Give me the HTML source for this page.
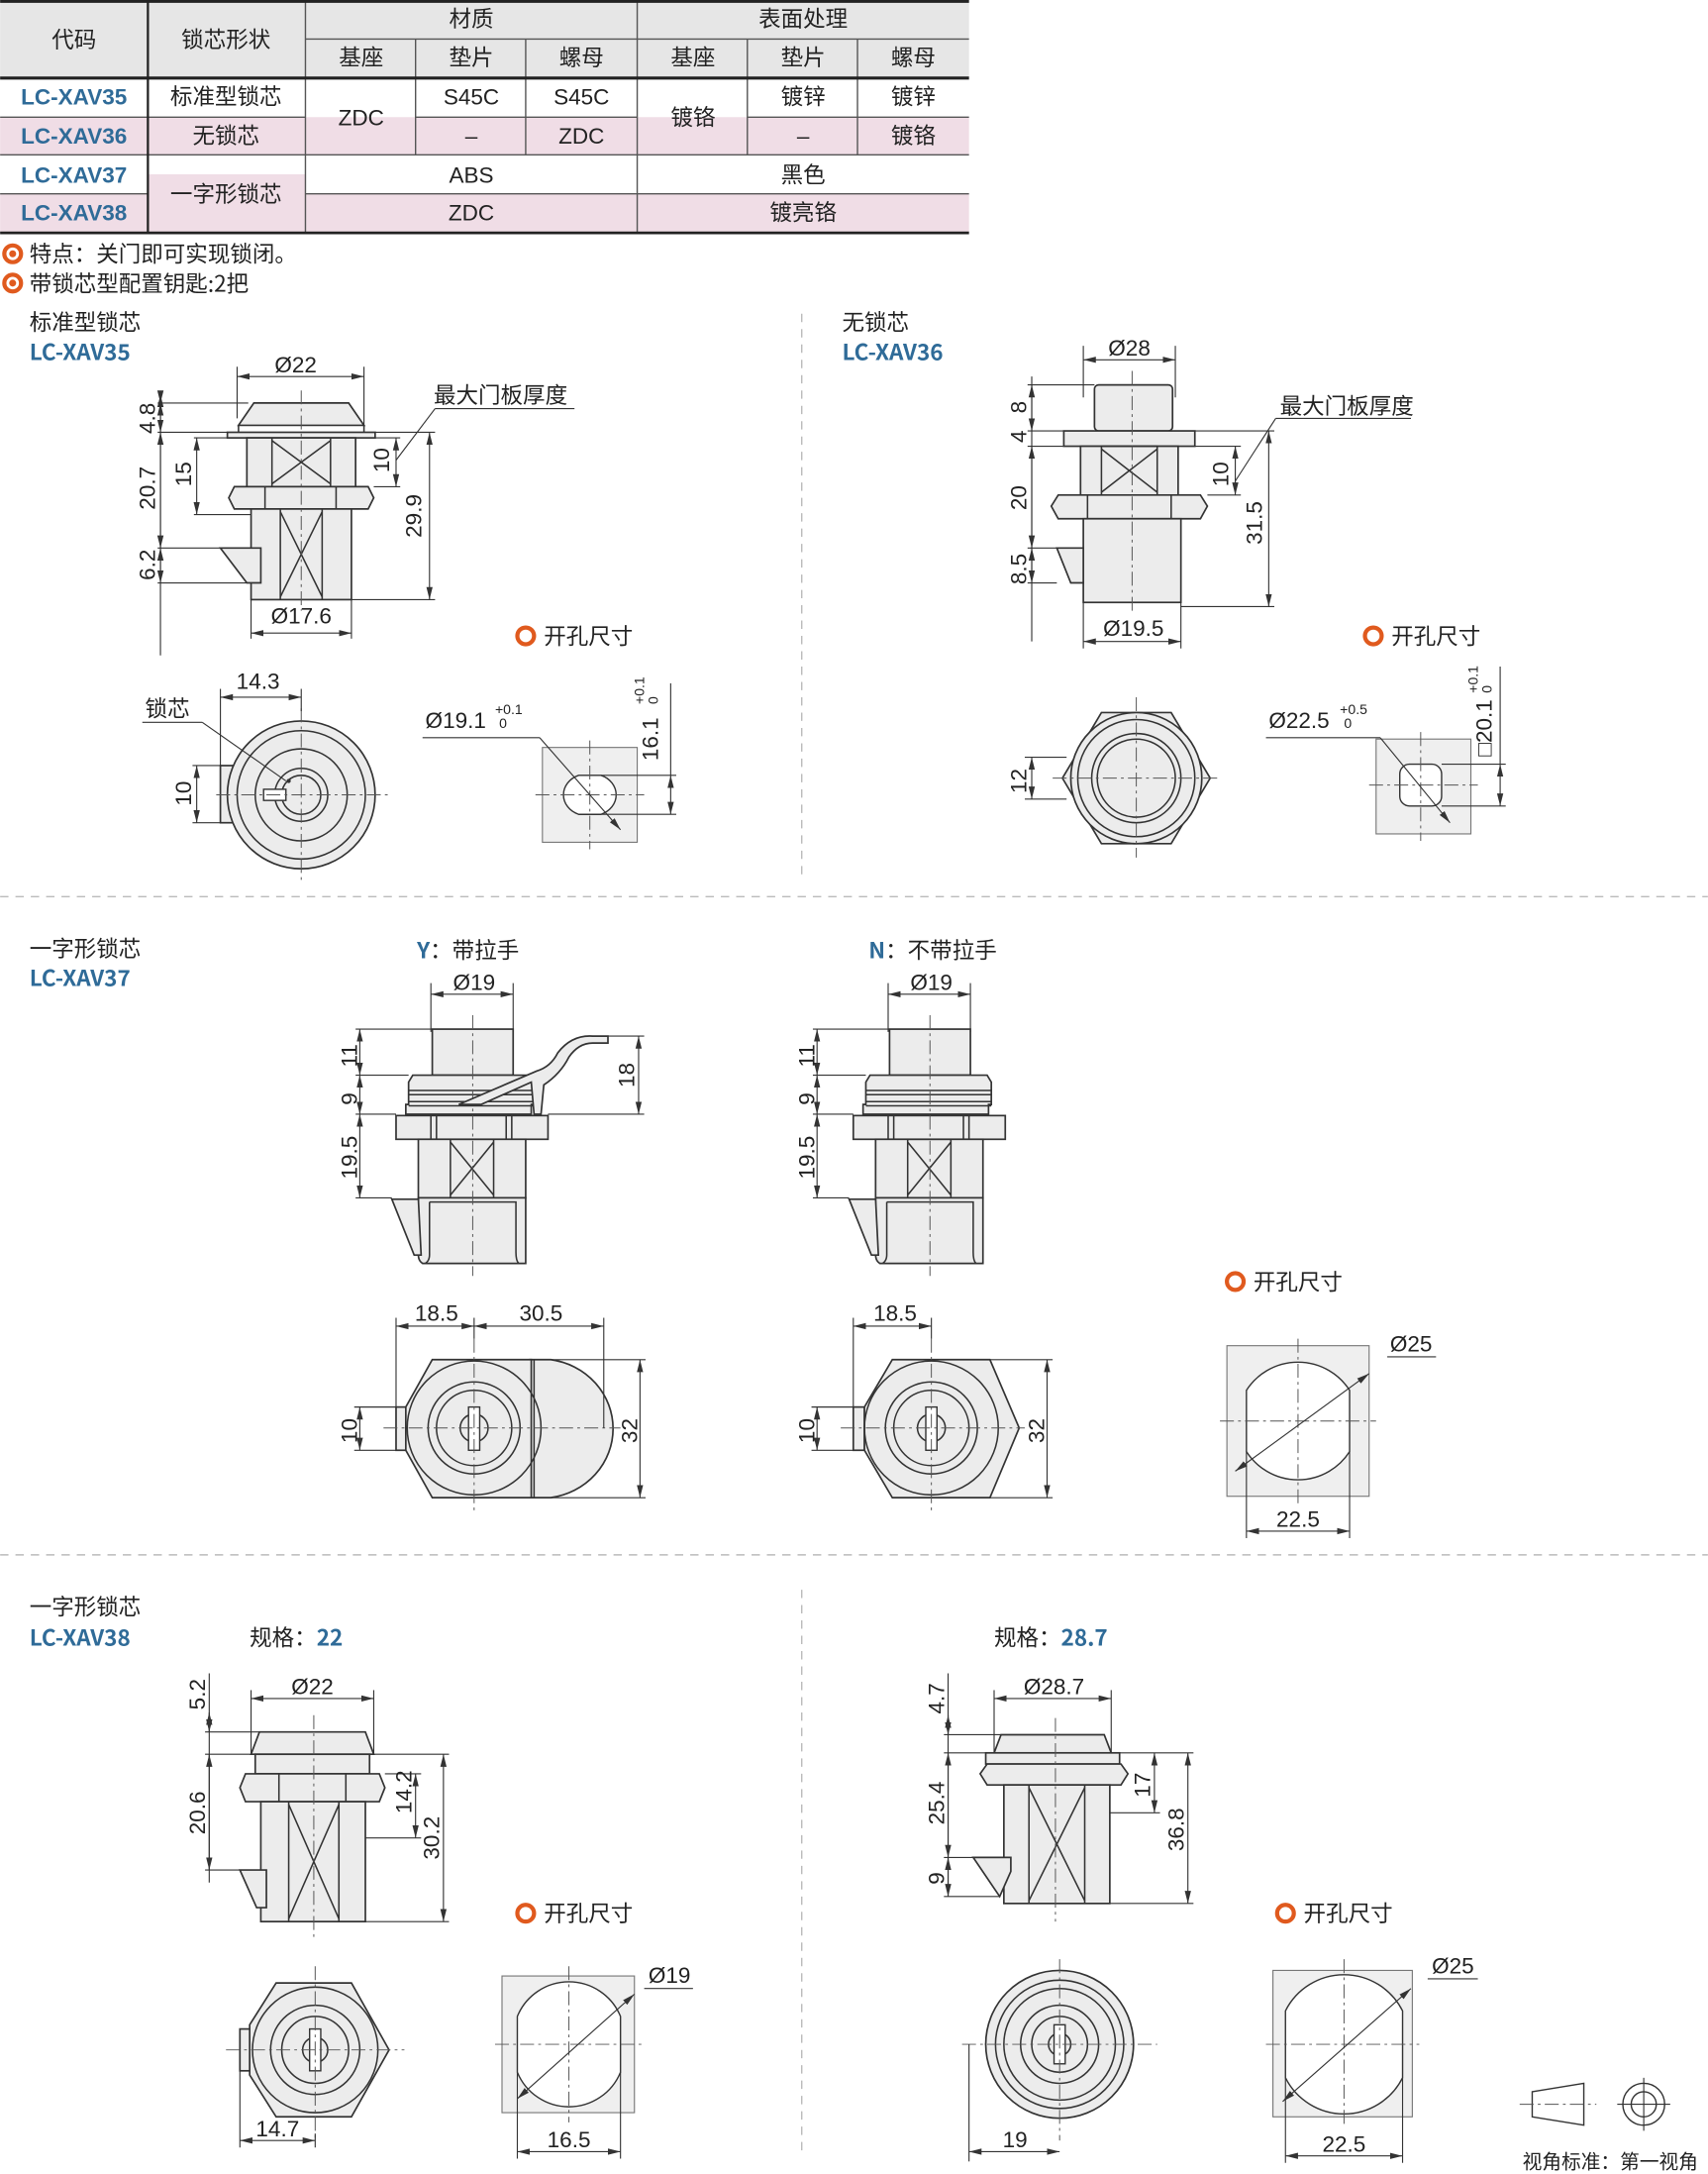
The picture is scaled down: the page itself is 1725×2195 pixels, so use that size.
<!DOCTYPE html>
<html><head><meta charset="utf-8">
<style>
html,body{margin:0;padding:0;background:#fff;}
svg{display:block;}
text{font-family:"Liberation Sans","Noto Sans CJK SC",sans-serif;fill:#222;}
.cn{font-family:"Noto Sans CJK SC","Liberation Sans",sans-serif;}
.p{fill:#ececec;stroke:#333;stroke-width:1.2;}
.l{fill:none;stroke:#333;stroke-width:1.1;}
.d{fill:none;stroke:#333;stroke-width:0.8;}
.dm{fill:none;stroke:#333;stroke-width:0.8;marker-start:url(#a);marker-end:url(#a);}
.c{fill:none;stroke:#555;stroke-width:0.7;stroke-dasharray:10 3 2 3;}
.sep{stroke:#bbb;stroke-width:1;stroke-dasharray:6 5;}
.n{font-size:16px;}
.blue{fill:#2f6b98;font-weight:bold;}
</style></head>
<body>
<svg width="1725" height="2195" viewBox="0 0 1225 1559" xmlns="http://www.w3.org/2000/svg">
<defs>
<marker id="a" viewBox="0 0 10 10" refX="10" refY="5" markerWidth="9" markerHeight="9" orient="auto-start-reverse" markerUnits="userSpaceOnUse"><path d="M0,2.5 L10,5 L0,7.5 z" fill="#333"/></marker>
</defs>

<!-- TABLE -->
<rect x="0" y="0" width="695" height="56" fill="#e6e6e6"/>
<rect x="0" y="84" width="219" height="27" fill="#f0dde6"/>
<rect x="298" y="84" width="159" height="27" fill="#f0dde6"/>
<rect x="536" y="84" width="159" height="27" fill="#f0dde6"/>
<rect x="219" y="84" width="79" height="27" fill="#f0dde6"/>
<rect x="457" y="84" width="79" height="27" fill="#f0dde6"/>
<rect x="0" y="139" width="106" height="28" fill="#f0dde6"/>
<rect x="106" y="125" width="113" height="42" fill="#f0dde6"/>
<rect x="219" y="139" width="476" height="28" fill="#f0dde6"/>
<g stroke="#555" stroke-width="1">
<line x1="219" y1="28" x2="695" y2="28"/>
<line x1="0" y1="84" x2="219" y2="84"/><line x1="298" y1="84" x2="457" y2="84"/><line x1="536" y1="84" x2="695" y2="84"/>
<line x1="0" y1="111" x2="695" y2="111"/>
<line x1="0" y1="139" x2="106" y2="139"/><line x1="219" y1="139" x2="695" y2="139"/>
<line x1="219" y1="0" x2="219" y2="167"/><line x1="457" y1="0" x2="457" y2="167"/>
<line x1="298" y1="28" x2="298" y2="111"/><line x1="377" y1="28" x2="377" y2="111"/>
<line x1="536" y1="28" x2="536" y2="111"/><line x1="615" y1="28" x2="615" y2="111"/>
</g>
<line x1="106" y1="0" x2="106" y2="167" stroke="#222" stroke-width="1.6"/>
<line x1="0" y1="1" x2="695" y2="1" stroke="#222" stroke-width="2"/>
<line x1="0" y1="56" x2="695" y2="56" stroke="#222" stroke-width="2.2"/>
<line x1="0" y1="167" x2="695" y2="167" stroke="#222" stroke-width="2"/>
<g class="cn" font-size="16" text-anchor="middle">
<text x="53" y="34">代码</text><text x="162" y="34">锁芯形状</text>
<text x="338" y="19">材质</text><text x="576" y="19">表面处理</text>
<text x="259" y="47">基座</text><text x="338" y="47">垫片</text><text x="417" y="47">螺母</text>
<text x="497" y="47">基座</text><text x="576" y="47">垫片</text><text x="655" y="47">螺母</text>
<text x="53" y="75" class="blue">LC-XAV35</text><text x="53" y="103" class="blue">LC-XAV36</text>
<text x="53" y="131" class="blue">LC-XAV37</text><text x="53" y="158" class="blue">LC-XAV38</text>
<text x="162" y="75">标准型锁芯</text><text x="162" y="103">无锁芯</text><text x="162" y="145">一字形锁芯</text>
<text x="259" y="90">ZDC</text><text x="338" y="75">S45C</text><text x="417" y="75">S45C</text>
<text x="338" y="103">–</text><text x="417" y="103">ZDC</text>
<text x="497" y="90">镀铬</text><text x="576" y="75">镀锌</text><text x="655" y="75">镀锌</text>
<text x="576" y="103">–</text><text x="655" y="103">镀铬</text>
<text x="338" y="131">ABS</text><text x="576" y="131">黑色</text>
<text x="338" y="158">ZDC</text><text x="576" y="158">镀亮铬</text>
</g>
<circle cx="9" cy="182" r="6" fill="none" stroke="#e05a1e" stroke-width="3"/>
<circle cx="9" cy="182" r="2.5" fill="#e05a1e"/>
<circle cx="9" cy="203" r="6" fill="none" stroke="#e05a1e" stroke-width="3"/>
<circle cx="9" cy="203" r="2.5" fill="#e05a1e"/>
<text class="cn" x="21" y="188" font-size="16">特点：关门即可实现锁闭。</text>
<text class="cn" x="21" y="209" font-size="16">带锁芯型配置钥匙:2把</text>

<!-- separators -->
<line class="sep" x1="575" y1="225" x2="575" y2="630"/>
<line class="sep" x1="0" y1="643" x2="1225" y2="643"/>
<line class="sep" x1="0" y1="1115" x2="1225" y2="1115"/>
<line class="sep" x1="575" y1="1140" x2="575" y2="1545"/>

<!-- ===== XAV35 ===== -->
<text class="cn" x="21" y="237" font-size="16">标准型锁芯</text>
<text class="cn blue" x="21" y="258" font-size="16">LC-XAV35</text>
<polygon class="p" points="182,289 250,289 261,305 171,305"/>
<rect class="p" x="163" y="310" width="106" height="4"/>
<line class="l" x1="171" y1="305" x2="171" y2="310"/><line class="l" x1="261" y1="305" x2="261" y2="310"/>
<rect class="p" x="177" y="314" width="78" height="35"/>
<line class="l" x1="195" y1="314" x2="195" y2="349"/><line class="l" x1="237" y1="314" x2="237" y2="349"/>
<path class="l" d="M195,316 L237,347 M237,316 L195,347" stroke-width="0.6"/>
<polygon class="p" points="168,349 264,349 268,357 264,365 168,365 164,357"/>
<line class="l" x1="190" y1="349" x2="190" y2="365"/><line class="l" x1="241" y1="349" x2="241" y2="365"/>
<rect class="p" x="180" y="365" width="72" height="65"/>
<line class="l" x1="201" y1="365" x2="201" y2="430"/><line class="l" x1="231" y1="365" x2="231" y2="430"/>
<path class="l" d="M201,367 L231,428 M231,367 L201,428" stroke-width="0.6"/>
<polygon class="p" points="158,393 187,393 187,418 177,418"/>
<line class="c" x1="216" y1="280" x2="216" y2="438"/>
<line class="d" x1="170" y1="263" x2="170" y2="300"/><line class="d" x1="261" y1="263" x2="261" y2="305"/>
<line class="dm" x1="170" y1="270" x2="261" y2="270"/><text class="n" x="212" y="267" text-anchor="middle">Ø22</text>
<line class="d" x1="115" y1="283" x2="115" y2="470"/>
<line class="dm" x1="115" y1="283" x2="115" y2="289"/>
<line class="d" x1="113" y1="289" x2="178" y2="289"/><line class="d" x1="113" y1="310" x2="163" y2="310"/>
<line class="d" x1="113" y1="393" x2="158" y2="393"/><line class="d" x1="113" y1="418" x2="177" y2="418"/>
<line class="dm" x1="115" y1="289" x2="115" y2="310"/><line class="dm" x1="115" y1="310" x2="115" y2="393"/><line class="dm" x1="115" y1="418" x2="115" y2="393"/>
<text class="n" transform="translate(111,300) rotate(-90)" text-anchor="middle">4.8</text>
<text class="n" transform="translate(111,350) rotate(-90)" text-anchor="middle">20.7</text>
<text class="n" transform="translate(111,405) rotate(-90)" text-anchor="middle">6.2</text>
<line class="d" x1="139" y1="314" x2="177" y2="314"/><line class="d" x1="139" y1="369" x2="180" y2="369"/>
<line class="dm" x1="141" y1="314" x2="141" y2="369"/>
<text class="n" transform="translate(137,340) rotate(-90)" text-anchor="middle">15</text>
<line class="d" x1="269" y1="314" x2="287" y2="314"/><line class="d" x1="268" y1="349" x2="287" y2="349"/>
<line class="dm" x1="284" y1="349" x2="284" y2="314"/>
<text class="n" transform="translate(279,330) rotate(-90)" text-anchor="middle">10</text>
<line class="d" x1="284" y1="330" x2="312" y2="293"/><line class="d" x1="312" y1="293" x2="412" y2="293"/>
<text class="cn" x="311" y="289" font-size="16">最大门板厚度</text>
<line class="d" x1="269" y1="310" x2="312" y2="310"/><line class="d" x1="252" y1="430" x2="312" y2="430"/>
<line class="dm" x1="308" y1="310" x2="308" y2="430"/>
<text class="n" transform="translate(302,370) rotate(-90)" text-anchor="middle">29.9</text>
<line class="d" x1="180" y1="430" x2="180" y2="458"/><line class="d" x1="252" y1="430" x2="252" y2="458"/>
<line class="dm" x1="180" y1="454" x2="252" y2="454"/><text class="n" x="216" y="447" text-anchor="middle">Ø17.6</text>
<circle cx="377" cy="456" r="6" fill="none" stroke="#e05a1e" stroke-width="3"/>
<text class="cn" x="390" y="462" font-size="16">开孔尺寸</text>
<!-- bottom view -->
<rect class="p" x="158" y="549" width="10" height="41"/>
<circle class="p" cx="216" cy="570" r="53"/>
<circle class="l" cx="216" cy="570" r="46"/>
<circle class="l" cx="216" cy="570" r="33"/>
<circle class="l" cx="216" cy="570" r="19"/>
<circle class="l" cx="216" cy="570" r="14"/>
<rect fill="#fff" stroke="#333" stroke-width="1" x="189" y="566" width="16" height="8"/>
<circle cx="207" cy="560" r="1.5" fill="#333"/>
<line class="c" x1="155" y1="570" x2="280" y2="570"/><line class="c" x1="216" y1="508" x2="216" y2="632"/>
<line class="d" x1="158" y1="494" x2="158" y2="549"/><line class="d" x1="216" y1="494" x2="216" y2="510"/>
<line class="dm" x1="158" y1="500" x2="216" y2="500"/><text class="n" x="185" y="494" text-anchor="middle">14.3</text>
<line class="d" x1="138" y1="549" x2="158" y2="549"/><line class="d" x1="138" y1="590" x2="158" y2="590"/>
<line class="dm" x1="141" y1="549" x2="141" y2="590"/>
<text class="n" transform="translate(137,569) rotate(-90)" text-anchor="middle">10</text>
<text class="cn" x="104" y="514" font-size="16">锁芯</text>
<line class="d" x1="102" y1="518" x2="145" y2="518"/><line class="d" x1="145" y1="518" x2="205" y2="560"/>
<rect x="389" y="536" width="68" height="68" fill="#efefef" stroke="#777" stroke-width="0.8"/>
<path d="M415,556 L431,556 A17 15 0 0 1 431,584 L415,584 A17 15 0 0 1 415,556 Z" fill="#fff" stroke="#333" stroke-width="1"/>
<line class="c" x1="384" y1="570" x2="462" y2="570"/><line class="c" x1="423" y1="531" x2="423" y2="609"/>
<text class="n" x="305" y="522">Ø19.1</text><text x="355" y="512" font-size="10">+0.1</text><text x="358" y="522" font-size="10">0</text>
<line class="d" x1="303" y1="529" x2="387" y2="529"/><line class="d" x1="387" y1="529" x2="445" y2="595" marker-end="url(#a)"/>
<line class="d" x1="431" y1="556" x2="485" y2="556"/><line class="d" x1="431" y1="584" x2="485" y2="584"/>
<line class="dm" x1="481" y1="556" x2="481" y2="584"/><line class="d" x1="481" y1="490" x2="481" y2="556"/>
<text class="n" transform="translate(472,530) rotate(-90)" text-anchor="middle">16.1</text>
<text font-size="10" transform="translate(462,505) rotate(-90)">+0.1</text><text font-size="10" transform="translate(472,505) rotate(-90)">0</text>

<!-- ===== XAV36 ===== -->
<text class="cn" x="604" y="237" font-size="16">无锁芯</text>
<text class="cn blue" x="604" y="258" font-size="16">LC-XAV36</text>
<rect class="p" x="785" y="276" width="56" height="33" rx="3"/>
<rect class="p" x="763" y="309" width="94" height="11"/>
<rect class="p" x="775" y="320" width="70" height="35"/>
<rect class="l" x="790" y="320" width="40" height="35"/>
<path class="l" d="M790,322 L830,353 M830,322 L790,353" stroke-width="0.6"/>
<polygon class="p" points="759,355 861,355 866,363 861,372 759,372 754,363"/>
<line class="l" x1="780" y1="355" x2="780" y2="372"/><line class="l" x1="840" y1="355" x2="840" y2="372"/>
<rect class="p" x="777" y="372" width="70" height="60"/>
<polygon class="p" points="758,393 777,393 777,418 768,418"/>
<line class="c" x1="812" y1="266" x2="812" y2="440"/>
<line class="d" x1="777" y1="248" x2="777" y2="285"/><line class="d" x1="843" y1="248" x2="843" y2="285"/>
<line class="dm" x1="777" y1="258" x2="843" y2="258"/><text class="n" x="810" y="255" text-anchor="middle">Ø28</text>
<line class="d" x1="740" y1="270" x2="740" y2="460"/>
<line class="d" x1="737" y1="276" x2="785" y2="276"/><line class="d" x1="737" y1="309" x2="763" y2="309"/><line class="d" x1="737" y1="320" x2="763" y2="320"/>
<line class="d" x1="737" y1="393" x2="758" y2="393"/><line class="d" x1="737" y1="418" x2="758" y2="418"/>
<line class="dm" x1="740" y1="276" x2="740" y2="309"/><line class="dm" x1="740" y1="320" x2="740" y2="393"/><line class="dm" x1="740" y1="393" x2="740" y2="418"/>
<text class="n" transform="translate(736,292) rotate(-90)" text-anchor="middle">8</text>
<text class="n" transform="translate(736,313) rotate(-90)" text-anchor="middle">4</text>
<text class="n" transform="translate(736,357) rotate(-90)" text-anchor="middle">20</text>
<text class="n" transform="translate(736,408) rotate(-90)" text-anchor="middle">8.5</text>
<line class="d" x1="857" y1="320" x2="890" y2="320"/><line class="d" x1="866" y1="355" x2="890" y2="355"/>
<line class="dm" x1="886" y1="355" x2="886" y2="320"/>
<text class="n" transform="translate(881,340) rotate(-90)" text-anchor="middle">10</text>
<line class="d" x1="886" y1="345" x2="915" y2="300"/><line class="d" x1="915" y1="300" x2="1012" y2="300"/>
<text class="cn" x="918" y="297" font-size="16">最大门板厚度</text>
<line class="d" x1="857" y1="309" x2="914" y2="309"/><line class="d" x1="847" y1="435" x2="914" y2="435"/>
<line class="dm" x1="910" y1="309" x2="910" y2="435"/>
<text class="n" transform="translate(905,375) rotate(-90)" text-anchor="middle">31.5</text>
<line class="d" x1="777" y1="432" x2="777" y2="465"/><line class="d" x1="847" y1="432" x2="847" y2="465"/>
<line class="dm" x1="777" y1="460" x2="847" y2="460"/><text class="n" x="813" y="456" text-anchor="middle">Ø19.5</text>
<circle cx="985" cy="456" r="6" fill="none" stroke="#e05a1e" stroke-width="3"/>
<text class="cn" x="998" y="462" font-size="16">开孔尺寸</text>
<polygon class="p" points="790,511 840,511 868,558 840,605 790,605 762,558"/>
<circle class="p" cx="815" cy="558" r="47"/>
<circle class="l" cx="815" cy="558" r="42"/>
<circle class="l" cx="815" cy="558" r="32"/>
<circle class="l" cx="815" cy="558" r="28"/>
<line class="c" x1="755" y1="558" x2="875" y2="558"/><line class="c" x1="815" y1="500" x2="815" y2="615"/>
<line class="d" x1="735" y1="543" x2="765" y2="543"/><line class="d" x1="735" y1="573" x2="765" y2="573"/>
<line class="dm" x1="740" y1="543" x2="740" y2="573"/>
<text class="n" transform="translate(736,560) rotate(-90)" text-anchor="middle">12</text>
<rect x="987" y="530" width="68" height="68" fill="#efefef" stroke="#777" stroke-width="0.8"/>
<rect x="1004" y="548" width="30" height="30" rx="7" fill="#fff" stroke="#333" stroke-width="1"/>
<line class="c" x1="982" y1="563" x2="1060" y2="563"/><line class="c" x1="1019" y1="525" x2="1019" y2="603"/>
<text class="n" x="910" y="522">Ø22.5</text><text x="961" y="512" font-size="10">+0.5</text><text x="964" y="522" font-size="10">0</text>
<line class="d" x1="908" y1="529" x2="990" y2="529"/><line class="d" x1="990" y1="529" x2="1040" y2="590" marker-end="url(#a)"/>
<line class="d" x1="1034" y1="548" x2="1080" y2="548"/><line class="d" x1="1034" y1="578" x2="1080" y2="578"/>
<line class="dm" x1="1076" y1="548" x2="1076" y2="578"/><line class="d" x1="1076" y1="478" x2="1076" y2="548"/>
<text class="n" transform="translate(1070,522) rotate(-90)" text-anchor="middle">□20.1</text>
<text font-size="10" transform="translate(1060,497) rotate(-90)">+0.1</text><text font-size="10" transform="translate(1070,497) rotate(-90)">0</text>

<!-- ===== XAV37 ===== -->
<text class="cn" x="21" y="686" font-size="16">一字形锁芯</text>
<text class="cn blue" x="21" y="707" font-size="16">LC-XAV37</text>
<text class="cn" x="299" y="687" font-size="16"><tspan class="blue">Y</tspan>：带拉手</text>
<text class="cn" x="623" y="687" font-size="16"><tspan class="blue">N</tspan>：不带拉手</text>

<g id="lk">
<rect class="p" x="310" y="738" width="58" height="33"/>
<polygon class="p" points="296,771 380,771 383,776 383,792 381,792 381,799 291,799 291,792 293,792 293,776"/>
<line class="l" x1="293" y1="782" x2="383" y2="782"/><line class="l" x1="293" y1="785" x2="383" y2="785"/>
<line class="l" x1="293" y1="790" x2="383" y2="790"/><line class="l" x1="293" y1="793" x2="383" y2="793"/>
<rect class="p" x="284" y="800" width="109" height="17"/>
<line class="l" x1="309" y1="800" x2="309" y2="817"/><line class="l" x1="313" y1="800" x2="313" y2="817"/>
<line class="l" x1="363" y1="800" x2="363" y2="817"/><line class="l" x1="367" y1="800" x2="367" y2="817"/>
<rect class="p" x="300" y="817" width="77" height="42"/>
<rect class="l" x="323" y="817" width="31" height="42"/>
<path class="l" d="M323,819 L354,857 M354,819 L323,857" stroke-width="0.6"/>
<path class="p" d="M300,859 L377,859 L377,906 L303,906 Q300,904 300,900 Z"/>
<path class="l" d="M308,862 L370,862 L370,898 Q370,904 372,906 M308,862 L308,900 Q308,904 305,906"/>
<polygon class="p" points="281,860 300,860 302,900 297,900"/>
<line class="c" x1="339" y1="728" x2="339" y2="915"/>
<line class="d" x1="309" y1="705" x2="309" y2="740"/><line class="d" x1="368" y1="705" x2="368" y2="740"/>
<line class="dm" x1="309" y1="713" x2="368" y2="713"/><text class="n" x="340" y="710" text-anchor="middle">Ø19</text>
<line class="d" x1="255" y1="738" x2="310" y2="738"/><line class="d" x1="255" y1="771" x2="293" y2="771"/>
<line class="d" x1="255" y1="799" x2="284" y2="799"/><line class="d" x1="255" y1="859" x2="281" y2="859"/>
<line class="dm" x1="258" y1="738" x2="258" y2="771"/><line class="dm" x1="258" y1="771" x2="258" y2="799"/><line class="dm" x1="258" y1="799" x2="258" y2="859"/>
<text class="n" transform="translate(256,757) rotate(-90)" text-anchor="middle">11</text>
<text class="n" transform="translate(256,788) rotate(-90)" text-anchor="middle">9</text>
<text class="n" transform="translate(256,830) rotate(-90)" text-anchor="middle">19.5</text>
</g>
<path class="p" d="M329,792 L385,768 Q395,765 400,755 Q410,742 425,743 L436,743 L436,748 L425,748 Q415,748 408,758 Q402,770 390,778 L388,799 L383,799 L381,776 L345,792 Z"/>
<line class="d" x1="436" y1="743" x2="462" y2="743"/><line class="d" x1="393" y1="799" x2="462" y2="799"/>
<line class="dm" x1="458" y1="743" x2="458" y2="799"/>
<text class="n" transform="translate(455,771) rotate(-90)" text-anchor="middle">18</text>
<use href="#lk" transform="translate(328,0)"/>
<!-- Y bottom -->
<rect class="p" x="284" y="1009" width="8" height="31"/>
<path class="p" d="M380,975 L395,975 A52 50 0 0 1 395,1074 L380,1074 Z"/>
<line class="l" x1="383" y1="975" x2="383" y2="1074"/>
<polygon class="p" points="310,975 381,975 381,1074 310,1074 291,1040 291,1009"/>
<circle class="l" cx="340" cy="1024" r="48" fill="#ececec"/>
<circle class="l" cx="340" cy="1024" r="33"/><circle class="l" cx="340" cy="1024" r="27"/>
<circle class="l" cx="340" cy="1024" r="10"/>
<rect x="336" y="1009" width="8" height="31" fill="#fff" stroke="#333"/>
<line class="c" x1="275" y1="1024" x2="445" y2="1024"/><line class="c" x1="340" y1="960" x2="340" y2="1085"/>
<line class="d" x1="284" y1="945" x2="284" y2="1009"/><line class="d" x1="340" y1="945" x2="340" y2="960"/><line class="d" x1="433" y1="945" x2="433" y2="1024"/>
<line class="dm" x1="284" y1="951" x2="340" y2="951"/><line class="dm" x1="340" y1="951" x2="433" y2="951"/>
<text class="n" x="313" y="947" text-anchor="middle">18.5</text><text class="n" x="388" y="947" text-anchor="middle">30.5</text>
<line class="d" x1="254" y1="1009" x2="284" y2="1009"/><line class="d" x1="254" y1="1040" x2="284" y2="1040"/>
<line class="dm" x1="258" y1="1009" x2="258" y2="1040"/>
<text class="n" transform="translate(256,1026) rotate(-90)" text-anchor="middle">10</text>
<line class="d" x1="395" y1="975" x2="463" y2="975"/><line class="d" x1="395" y1="1074" x2="463" y2="1074"/>
<line class="dm" x1="459" y1="975" x2="459" y2="1074"/>
<text class="n" transform="translate(457,1026) rotate(-90)" text-anchor="middle">32</text>
<!-- N bottom -->
<rect class="p" x="612" y="1009" width="8" height="31"/>
<polygon class="p" points="640,975 710,975 731,1024 710,1074 640,1074 620,1040 620,1009"/>
<circle class="l" cx="668" cy="1024" r="48" fill="#ececec"/>
<circle class="l" cx="668" cy="1024" r="33"/><circle class="l" cx="668" cy="1024" r="27"/>
<circle class="l" cx="668" cy="1024" r="10"/>
<rect x="664" y="1009" width="8" height="31" fill="#fff" stroke="#333"/>
<line class="c" x1="603" y1="1024" x2="735" y2="1024"/><line class="c" x1="668" y1="960" x2="668" y2="1085"/>
<line class="d" x1="612" y1="945" x2="612" y2="1009"/><line class="d" x1="668" y1="945" x2="668" y2="960"/>
<line class="dm" x1="612" y1="951" x2="668" y2="951"/><text class="n" x="642" y="947" text-anchor="middle">18.5</text>
<line class="d" x1="582" y1="1009" x2="612" y2="1009"/><line class="d" x1="582" y1="1040" x2="612" y2="1040"/>
<line class="dm" x1="586" y1="1009" x2="586" y2="1040"/>
<text class="n" transform="translate(584,1026) rotate(-90)" text-anchor="middle">10</text>
<line class="d" x1="710" y1="975" x2="755" y2="975"/><line class="d" x1="710" y1="1074" x2="755" y2="1074"/>
<line class="dm" x1="751" y1="975" x2="751" y2="1074"/>
<text class="n" transform="translate(749,1026) rotate(-90)" text-anchor="middle">32</text>
<!-- cutout 37 -->
<circle cx="886" cy="919" r="6" fill="none" stroke="#e05a1e" stroke-width="3"/>
<text class="cn" x="899" y="925" font-size="16">开孔尺寸</text>
<rect x="880" y="965" width="102" height="108" fill="#efefef" stroke="#777" stroke-width="0.8"/>
<path d="M894,997 A44 44 0 0 1 968,997 L968,1041 A44 44 0 0 1 894,1041 Z" fill="#fff" stroke="#333" stroke-width="1"/>
<line class="c" x1="875" y1="1019" x2="987" y2="1019"/><line class="c" x1="931" y1="960" x2="931" y2="1078"/>
<text class="n" x="997" y="969">Ø25</text>
<line class="d" x1="995" y1="973" x2="1030" y2="973"/><line class="d" x1="982" y1="985" x2="886" y2="1055" marker-start="url(#a)" marker-end="url(#a)"/>
<line class="d" x1="894" y1="1041" x2="894" y2="1103"/><line class="d" x1="968" y1="1041" x2="968" y2="1103"/>
<line class="dm" x1="894" y1="1098" x2="968" y2="1098"/><text class="n" x="931" y="1095" text-anchor="middle">22.5</text>

<!-- ===== XAV38 ===== -->
<text class="cn" x="21" y="1158" font-size="16">一字形锁芯</text>
<text class="cn blue" x="21" y="1180" font-size="16">LC-XAV38</text>
<text class="cn" x="179" y="1180" font-size="16">规格：<tspan class="blue">22</tspan></text>
<text class="cn" x="713" y="1180" font-size="16">规格：<tspan class="blue">28.7</tspan></text>
<!-- left -->
<polygon class="p" points="186,1242 262,1242 268,1258 180,1258"/>
<rect class="p" x="183" y="1258" width="82" height="14"/>
<polygon class="p" points="176,1272 272,1272 276,1282 272,1292 176,1292 172,1282"/>
<line class="l" x1="200" y1="1272" x2="200" y2="1292"/><line class="l" x1="248" y1="1272" x2="248" y2="1292"/>
<rect class="p" x="187" y="1292" width="75" height="86"/>
<line class="l" x1="207" y1="1292" x2="207" y2="1378"/><line class="l" x1="243" y1="1292" x2="243" y2="1378"/>
<path class="l" d="M207,1294 L243,1376 M243,1294 L207,1376" stroke-width="0.6"/>
<polygon class="p" points="172,1341 191,1341 191,1368 184,1368"/>
<line class="c" x1="225" y1="1230" x2="225" y2="1390"/>
<line class="d" x1="180" y1="1212" x2="180" y2="1258"/><line class="d" x1="268" y1="1212" x2="268" y2="1258"/>
<line class="dm" x1="180" y1="1218" x2="268" y2="1218"/><text class="n" x="224" y="1215" text-anchor="middle">Ø22</text>
<line class="d" x1="150" y1="1200" x2="150" y2="1350"/>
<line class="d" x1="147" y1="1242" x2="186" y2="1242"/><line class="d" x1="147" y1="1258" x2="183" y2="1258"/><line class="d" x1="147" y1="1341" x2="172" y2="1341"/>
<line class="dm" x1="150" y1="1228" x2="150" y2="1242"/><line class="dm" x1="150" y1="1258" x2="150" y2="1341"/>
<text class="n" transform="translate(147,1215) rotate(-90)" text-anchor="middle">5.2</text>
<text class="n" transform="translate(147,1300) rotate(-90)" text-anchor="middle">20.6</text>
<line class="d" x1="276" y1="1272" x2="302" y2="1272"/><line class="d" x1="262" y1="1318" x2="302" y2="1318"/>
<line class="dm" x1="298" y1="1272" x2="298" y2="1318"/>
<text class="n" transform="translate(295,1285) rotate(-90)" text-anchor="middle">14.2</text>
<line class="d" x1="265" y1="1258" x2="322" y2="1258"/><line class="d" x1="262" y1="1378" x2="322" y2="1378"/>
<line class="dm" x1="318" y1="1258" x2="318" y2="1378"/>
<text class="n" transform="translate(315,1318) rotate(-90)" text-anchor="middle">30.2</text>
<circle cx="377" cy="1372" r="6" fill="none" stroke="#e05a1e" stroke-width="3"/>
<text class="cn" x="390" y="1378" font-size="16">开孔尺寸</text>
<rect class="p" x="172" y="1455" width="8" height="30"/>
<polygon class="p" points="198,1422 252,1422 279,1470 252,1518 198,1518 179,1488 179,1452"/>
<circle class="l" cx="226" cy="1470" r="45" fill="#ececec"/>
<circle class="l" cx="226" cy="1470" r="32"/><circle class="l" cx="226" cy="1470" r="24"/><circle class="l" cx="226" cy="1470" r="9"/>
<rect x="222" y="1455" width="8" height="30" fill="#fff" stroke="#333"/>
<line class="c" x1="162" y1="1470" x2="290" y2="1470"/><line class="c" x1="226" y1="1410" x2="226" y2="1535"/>
<line class="d" x1="172" y1="1485" x2="172" y2="1540"/><line class="d" x1="226" y1="1530" x2="226" y2="1540"/>
<line class="dm" x1="172" y1="1535" x2="226" y2="1535"/><text class="n" x="199" y="1532" text-anchor="middle">14.7</text>
<rect x="360" y="1417" width="95" height="98" fill="#efefef" stroke="#777" stroke-width="0.8"/>
<path d="M371,1446 A40 40 0 0 1 445,1446 L445,1486 A40 40 0 0 1 371,1486 Z" fill="#fff" stroke="#333" stroke-width="1"/>
<line class="c" x1="355" y1="1466" x2="460" y2="1466"/><line class="c" x1="408" y1="1410" x2="408" y2="1522"/>
<text class="n" x="465" y="1422">Ø19</text>
<line class="d" x1="462" y1="1426" x2="497" y2="1426"/><line class="d" x1="455" y1="1430" x2="371" y2="1505" marker-start="url(#a)" marker-end="url(#a)"/>
<line class="d" x1="371" y1="1486" x2="371" y2="1548"/><line class="d" x1="445" y1="1486" x2="445" y2="1548"/>
<line class="dm" x1="371" y1="1543" x2="445" y2="1543"/><text class="n" x="408" y="1540" text-anchor="middle">16.5</text>
<!-- right -->
<polygon class="p" points="718,1244 792,1244 797,1257 713,1257"/>
<rect class="p" x="707" y="1257" width="96" height="8"/>
<polygon class="p" points="708,1265 804,1265 809,1272 804,1280 708,1280 703,1272"/>
<rect class="p" x="720" y="1280" width="76" height="85"/>
<line class="l" x1="738" y1="1280" x2="738" y2="1365"/><line class="l" x1="778" y1="1280" x2="778" y2="1365"/>
<path class="l" d="M738,1282 L778,1363 M778,1282 L738,1363" stroke-width="0.6"/>
<polygon class="p" points="698,1332 725,1332 725,1342 717,1360"/>
<line class="c" x1="757" y1="1232" x2="757" y2="1378"/>
<line class="d" x1="713" y1="1212" x2="713" y2="1257"/><line class="d" x1="797" y1="1212" x2="797" y2="1257"/>
<line class="dm" x1="713" y1="1218" x2="797" y2="1218"/><text class="n" x="756" y="1215" text-anchor="middle">Ø28.7</text>
<line class="d" x1="680" y1="1200" x2="680" y2="1360"/>
<line class="d" x1="677" y1="1244" x2="718" y2="1244"/><line class="d" x1="677" y1="1257" x2="707" y2="1257"/>
<line class="d" x1="677" y1="1332" x2="698" y2="1332"/><line class="d" x1="677" y1="1360" x2="717" y2="1360"/>
<line class="dm" x1="680" y1="1230" x2="680" y2="1244"/><line class="dm" x1="680" y1="1257" x2="680" y2="1332"/><line class="dm" x1="680" y1="1332" x2="680" y2="1360"/>
<text class="n" transform="translate(677,1218) rotate(-90)" text-anchor="middle">4.7</text>
<text class="n" transform="translate(677,1293) rotate(-90)" text-anchor="middle">25.4</text>
<text class="n" transform="translate(677,1347) rotate(-90)" text-anchor="middle">9</text>
<line class="d" x1="803" y1="1257" x2="856" y2="1257"/><line class="d" x1="796" y1="1300" x2="832" y2="1300"/><line class="d" x1="796" y1="1365" x2="856" y2="1365"/>
<line class="dm" x1="828" y1="1257" x2="828" y2="1300"/><line class="dm" x1="852" y1="1257" x2="852" y2="1365"/>
<text class="n" transform="translate(825,1280) rotate(-90)" text-anchor="middle">17</text>
<text class="n" transform="translate(849,1312) rotate(-90)" text-anchor="middle">36.8</text>
<circle cx="922" cy="1372" r="6" fill="none" stroke="#e05a1e" stroke-width="3"/>
<text class="cn" x="935" y="1378" font-size="16">开孔尺寸</text>
<polygon class="p" points="707,1466 716,1440 716,1492"/>
<circle class="p" cx="760" cy="1466" r="53"/>
<circle class="l" cx="760" cy="1466" r="46"/><circle class="l" cx="760" cy="1466" r="40"/>
<circle class="l" cx="760" cy="1466" r="28"/><circle class="l" cx="760" cy="1466" r="20"/><circle class="l" cx="760" cy="1466" r="8"/>
<rect x="756" y="1452" width="8" height="28" fill="#fff" stroke="#333"/>
<line class="c" x1="690" y1="1466" x2="830" y2="1466"/><line class="c" x1="760" y1="1405" x2="760" y2="1535"/>
<line class="d" x1="695" y1="1466" x2="695" y2="1550"/>
<line class="dm" x1="695" y1="1543" x2="760" y2="1543"/><text class="n" x="728" y="1540" text-anchor="middle">19</text>
<rect x="913" y="1413" width="100" height="105" fill="#efefef" stroke="#777" stroke-width="0.8"/>
<path d="M922,1442 A47 47 0 0 1 1006,1442 L1006,1490 A47 47 0 0 1 922,1490 Z" fill="#fff" stroke="#333" stroke-width="1"/>
<line class="c" x1="908" y1="1466" x2="1018" y2="1466"/><line class="c" x1="964" y1="1405" x2="964" y2="1525"/>
<text class="n" x="1027" y="1415">Ø25</text>
<line class="d" x1="1024" y1="1419" x2="1060" y2="1419"/><line class="d" x1="1012" y1="1426" x2="920" y2="1507" marker-start="url(#a)" marker-end="url(#a)"/>
<line class="d" x1="922" y1="1490" x2="922" y2="1551"/><line class="d" x1="1006" y1="1490" x2="1006" y2="1551"/>
<line class="dm" x1="922" y1="1546" x2="1006" y2="1546"/><text class="n" x="964" y="1543" text-anchor="middle">22.5</text>

<!-- legend -->
<polygon points="1099,1500 1136,1494 1136,1524 1099,1518" fill="none" stroke="#333" stroke-width="1"/>
<line class="c" x1="1090" y1="1509" x2="1145" y2="1509"/>
<circle cx="1179" cy="1509" r="15" fill="none" stroke="#333"/><circle cx="1179" cy="1509" r="9" fill="none" stroke="#333"/>
<line class="d" x1="1160" y1="1509" x2="1198" y2="1509"/><line class="d" x1="1179" y1="1490" x2="1179" y2="1528"/>
<text class="cn" x="1092" y="1555" font-size="14">视角标准：第一视角</text>
</svg>
</body></html>
